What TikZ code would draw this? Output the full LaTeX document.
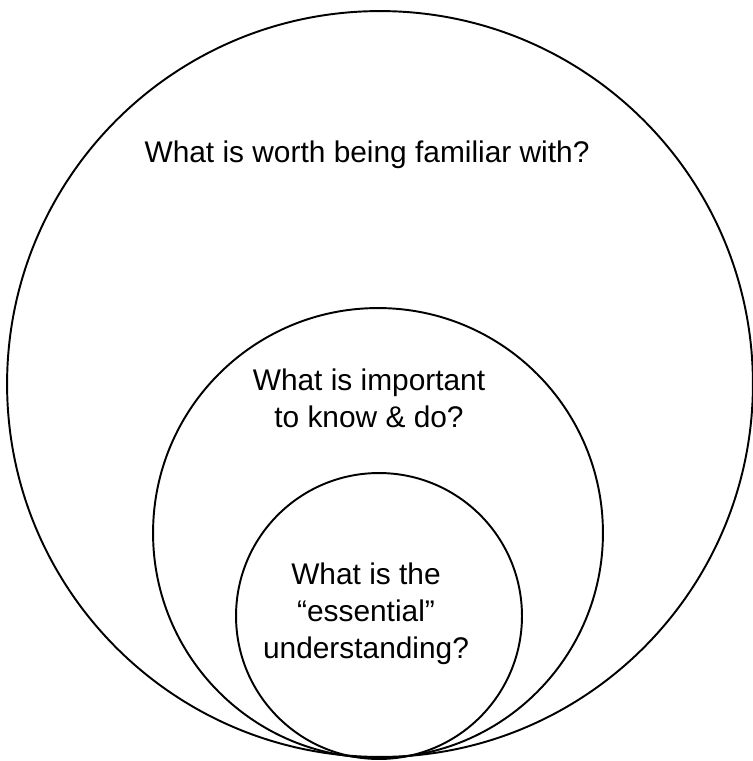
\documentclass[tikz,border=0pt]{standalone}
\usepackage{fontspec}
\setmainfont{Liberation Sans}
\usepackage{tikz}
\usetikzlibrary{positioning}

\begin{document}
\begin{tikzpicture}[
    x=0.02cm, y=0.02cm,
    ring/.style={circle, draw, line width=1.1pt, inner sep=0pt},
    question/.style={align=center, font=\fontsize{17}{21}\selectfont}
]
    \useasboundingbox (0,0) rectangle (752,-761);
    % nested circles, all touching at the bottom
    \node [ring, minimum size=14.92cm] (outer) at (380,-384) {};
    \node [ring, minimum size=9.0cm] (middle) at (378,-533) {};
    \node [ring, minimum size=5.72cm] (inner) at (379,-616) {};

    \node [question] (familiar) at (367,-155) {What is worth being familiar with?};
    \node [question] (important) at (369,-398) {What is important\\to know \& do?};
    \node [question] (essential) at (366,-614) {What is the\\“essential”\\understanding?};
\end{tikzpicture}
\end{document}
